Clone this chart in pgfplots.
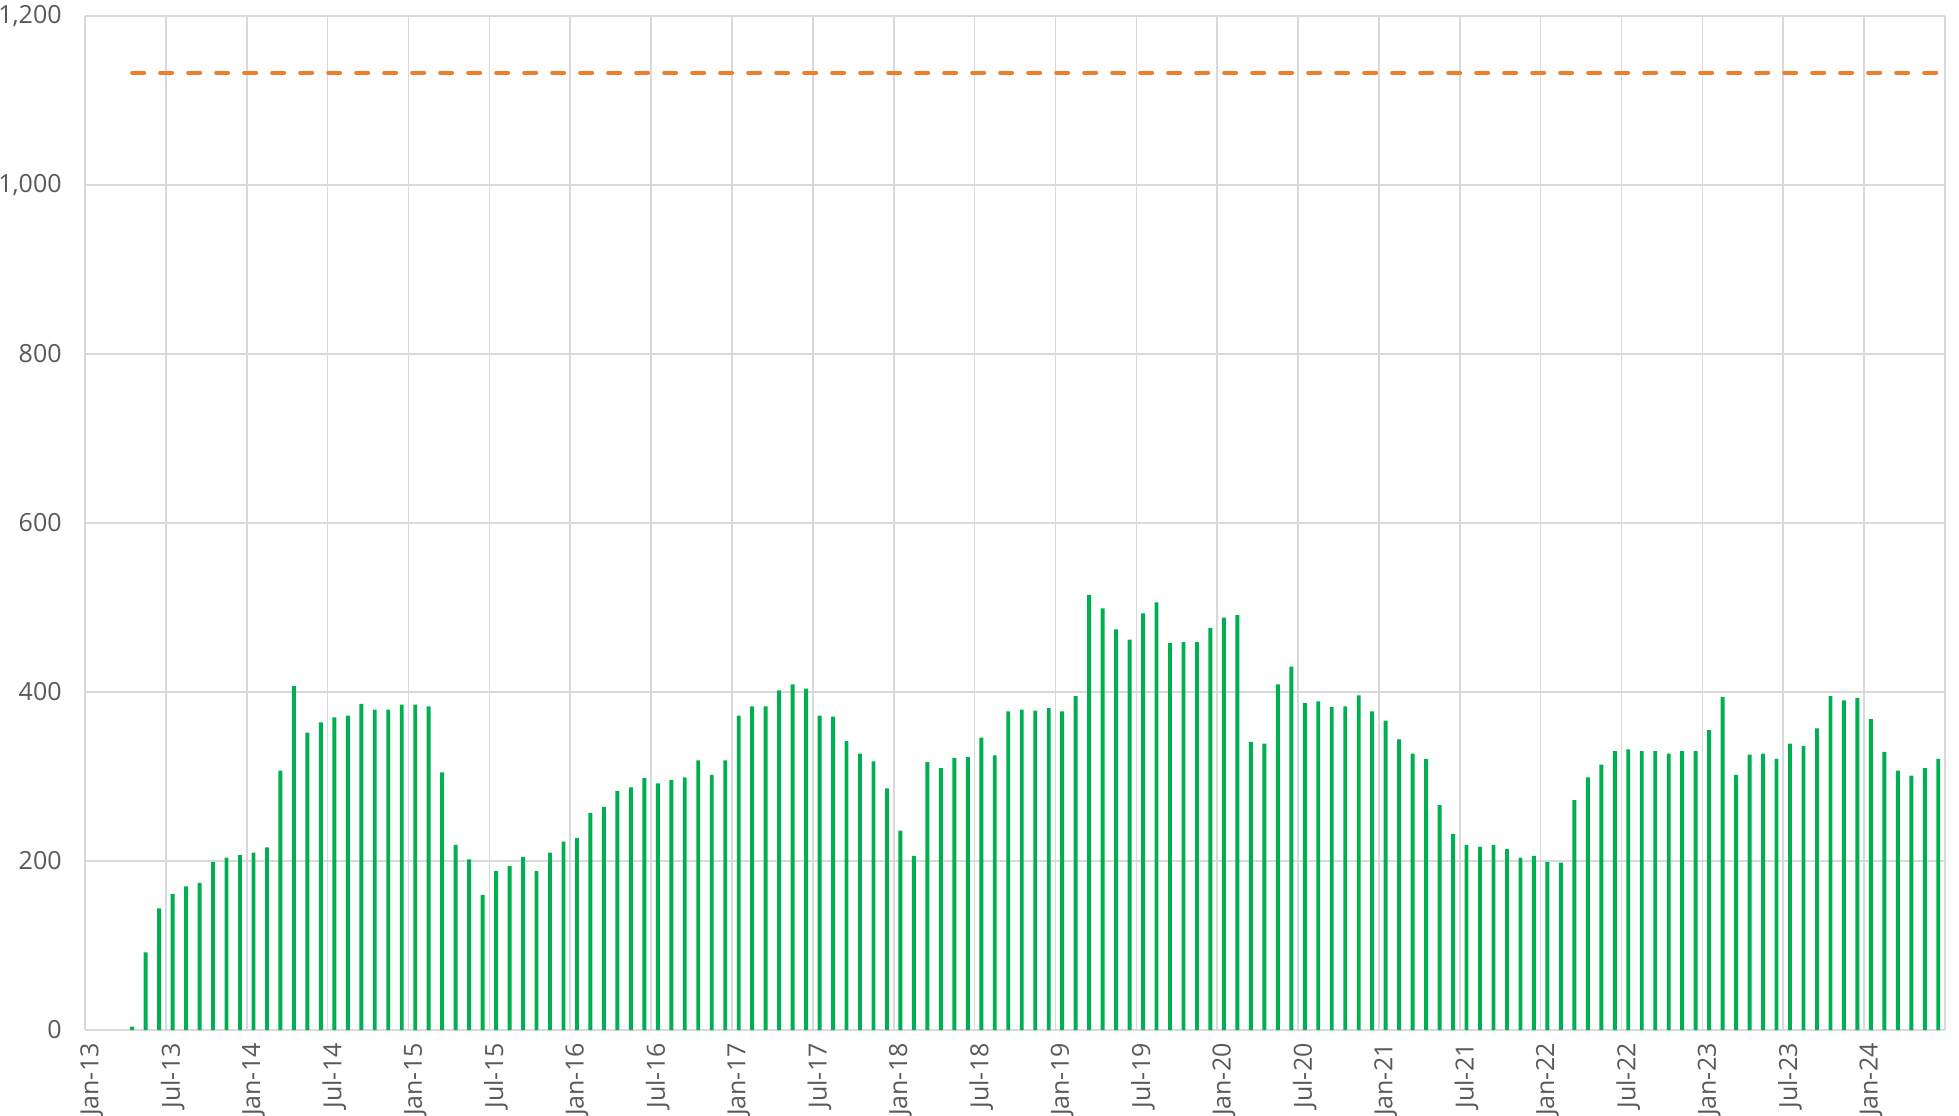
\documentclass[border=0pt]{standalone}
\usepackage{pgfplots}
\pgfplotsset{compat=1.18}
\usepackage{pgfplotstable}
\usepackage{fontspec}
\setmainfont{Open Sans}
\definecolor{bargreen}{HTML}{00B050}
\definecolor{lineorange}{HTML}{ED7D31}
\definecolor{gridgray}{HTML}{D9D9D9}
\definecolor{textgray}{HTML}{595959}

% monthly values, Apr-13 ... Jun-24
\pgfplotstableread{
v
4
92
144
161
170
174
199
204
207
210
216
307
407
352
364
370
372
386
379
379
385
385
383
305
219
202
160
188
194
205
188
210
223
227
257
264
283
287
298
292
296
299
319
302
319
372
383
383
402
409
404
372
371
342
327
318
286
236
206
317
310
322
323
346
325
377
379
378
381
377
395
515
499
474
462
493
506
458
459
459
476
488
491
341
339
409
430
387
389
382
383
396
377
366
344
327
321
266
232
219
217
219
214
204
206
199
198
272
299
314
330
332
330
330
327
330
330
355
394
302
326
327
321
339
336
357
395
390
393
368
329
307
301
310
321
}\bardata

\begin{document}
\begin{tikzpicture}
\begin{axis}[
  scale only axis,
  width=930pt, height=507pt,
  xmin=0, xmax=138, ymin=0, ymax=1200,
  axis line style={draw=none},
  tick style={draw=none},
  major tick length=0pt, minor tick length=0pt,
  xtick={0.5,6.5,12.5,18.5,24.5,30.5,36.5,42.5,48.5,54.5,60.5,66.5,72.5,78.5,84.5,90.5,96.5,102.5,108.5,114.5,120.5,126.5,132.5},
  xticklabels={Jan-13,Jul-13,Jan-14,Jul-14,Jan-15,Jul-15,Jan-16,Jul-16,Jan-17,Jul-17,Jan-18,Jul-18,Jan-19,Jul-19,Jan-20,Jul-20,Jan-21,Jul-21,Jan-22,Jul-22,Jan-23,Jul-23,Jan-24},
  minor xtick={0,6,...,138},
  xmajorgrids=false, xminorgrids=true, ymajorgrids=true,
  major grid style={gridgray, line width=0.8pt},
  minor grid style={gridgray, line width=0.8pt},
  ytick={0,200,...,1200},
  /pgf/number format/assume math mode=true,
  /pgf/number format/1000 sep={,},
  yticklabel style={anchor=east, inner sep=0pt, xshift=-11.5pt, text=textgray, font=\fontsize{12.5}{14}\selectfont},
  xticklabel style={yshift=-6.5pt, rotate=90, anchor=east, inner sep=0pt, text=textgray, font=\fontsize{12.5}{14}\selectfont},
]
\addplot[ybar, bar width=0.29, fill=bargreen, draw=none, bar shift=0pt]
  table[x expr=\coordindex+3.5, y=v] {\bardata};
\addplot[lineorange, line width=2pt, dash pattern=on 6pt off 8pt, line cap=round]
  coordinates {(3.5,1133) (137.5,1133)};
\end{axis}
\pgfresetboundingbox
\path ([xshift=-42.5pt,yshift=-42.5pt]current axis.south west) rectangle ([xshift=7pt,yshift=8pt]current axis.north east);
\end{tikzpicture}
\end{document}
